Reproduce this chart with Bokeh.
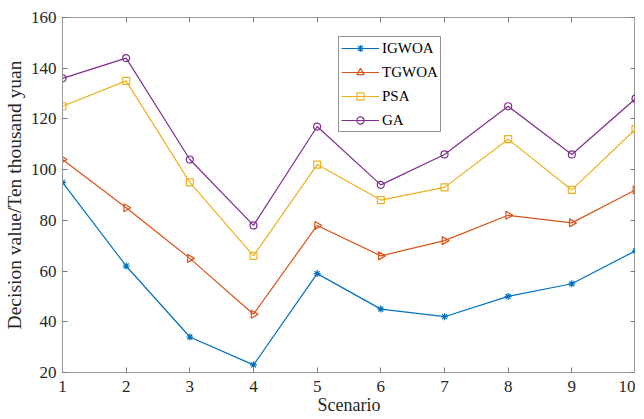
from bokeh.plotting import figure
from bokeh.embed import file_html
from bokeh.resources import INLINE
from bokeh.models import Range1d, FixedTicker, Legend, LegendItem, LinearAxis

scenario = [1, 2, 3, 4, 5, 6, 7, 8, 9, 10]
igwoa = [95, 62, 34, 23, 59, 45, 42, 50, 55, 68]
tgwoa = [104, 85, 65, 43, 78, 66, 72, 82, 79, 92]
psa = [125, 135, 95, 66, 102, 88, 93, 112, 92, 116]
ga = [136, 144, 104, 78, 117, 94, 106, 125, 106, 128]
y_ticks = [20, 40, 60, 80, 100, 120, 140, 160]
series_names = ["IGWOA", "TGWOA", "PSA", "GA"]
colors = ["#0072BD", "#D95319", "#EDB120", "#7E2F8E"]
markers = ["asterisk", "triangle", "square", "circle"]

FONT = "Liberation Serif"
AX = "#9a9a9a"

p = figure(width=635, height=417, output_backend="svg", toolbar_location=None,
           x_range=Range1d(1, 10), y_range=Range1d(20, 160),
           min_border_left=58, min_border_top=17, min_border_right=0, min_border_bottom=0)
p.outline_line_color = AX
p.grid.visible = False
p.background_fill_color = "white"
p.border_fill_color = "white"

p.add_layout(LinearAxis(), "right")
p.add_layout(LinearAxis(), "above")

for ax in p.axis:
    ax.axis_line_color = AX
    ax.major_tick_line_color = "#7a7a7a"
    ax.major_tick_in = 5
    ax.major_tick_out = 0
    ax.minor_tick_line_color = None
    ax.major_label_text_font = FONT
    ax.major_label_text_font_size = "17px"
    ax.major_label_text_color = "#262626"
    ax.axis_label_text_font = FONT
    ax.axis_label_text_font_size = "18px"
    ax.axis_label_text_font_style = "normal"
    ax.axis_label_text_color = "#262626"

for ax in p.xaxis:
    ax.ticker = FixedTicker(ticks=scenario)
for ax in p.yaxis:
    ax.ticker = FixedTicker(ticks=y_ticks)

for ax in (p.above[0], p.right[0]):
    ax.major_label_text_font_size = "0px"
    ax.major_label_standoff = 0
    ax.axis_label_standoff = 0
    ax.major_label_text_alpha = 0

p.below[0].axis_label = "Scenario"
p.left[0].axis_label = "Decision value/Ten thousand yuan"
p.left[0].axis_label_text_font_size = "19.5px"
p.below[0].axis_label_standoff = 0
p.left[0].axis_label_standoff = 3
p.below[0].major_label_standoff = 8
p.left[0].major_label_standoff = 6

items = []
for name, ys, c, m in zip(series_names, [igwoa, tgwoa, psa, ga], colors, markers):
    r1 = p.line(scenario, ys, line_color=c, line_width=1.2)
    if m == "triangle":
        r2 = p.scatter(scenario, ys, marker=m, size=8, line_color=c, fill_color=None,
                       line_width=1.2, angle=-90, angle_units="deg")
    else:
        r2 = p.scatter(scenario, ys, marker=m, size=7, line_color=c, fill_color=None,
                       line_width=1.2)
    items.append(LegendItem(label=name, renderers=[r1, r2]))

legend = Legend(items=items, location=(276, 240))
legend.label_text_font = FONT
legend.label_text_font_size = "15px"
legend.label_text_color = "#000000"
legend.border_line_color = "#262626"
legend.border_line_width = 1
legend.glyph_width = 38
legend.glyph_height = 18
legend.label_height = 18
legend.spacing = 6
legend.padding = 2
legend.margin = 0
legend.label_standoff = 3
p.add_layout(legend, "center")

open("out.html", "w").write(file_html(p, INLINE))
